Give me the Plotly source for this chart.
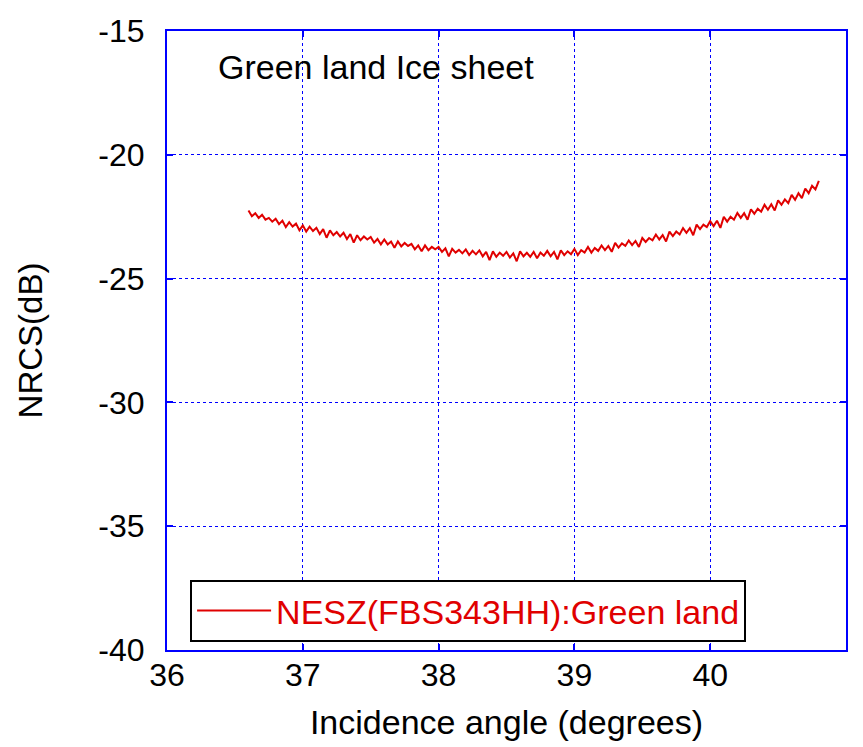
import plotly.graph_objects as go

# Incidence angle (degrees)
angle = [
    36.600, 36.625, 36.650, 36.675, 36.700, 36.725, 36.750, 36.775, 36.800, 36.825, 36.850, 36.875,
    36.900, 36.925, 36.950, 36.975, 37.000, 37.025, 37.050, 37.075, 37.100, 37.125, 37.150, 37.175,
    37.200, 37.225, 37.250, 37.275, 37.300, 37.325, 37.350, 37.375, 37.400, 37.425, 37.450, 37.475,
    37.500, 37.525, 37.550, 37.575, 37.600, 37.625, 37.650, 37.675, 37.700, 37.725, 37.750, 37.775,
    37.800, 37.825, 37.850, 37.875, 37.900, 37.925, 37.950, 37.975, 38.000, 38.025, 38.050, 38.075,
    38.100, 38.125, 38.150, 38.175, 38.200, 38.225, 38.250, 38.275, 38.300, 38.325, 38.350, 38.375,
    38.400, 38.425, 38.450, 38.475, 38.500, 38.525, 38.550, 38.575, 38.600, 38.625, 38.650, 38.675,
    38.700, 38.725, 38.750, 38.775, 38.800, 38.825, 38.850, 38.875, 38.900, 38.925, 38.950, 38.975,
    39.000, 39.025, 39.050, 39.075, 39.100, 39.125, 39.150, 39.175, 39.200, 39.225, 39.250, 39.275,
    39.300, 39.325, 39.350, 39.375, 39.400, 39.425, 39.450, 39.475, 39.500, 39.525, 39.550, 39.575,
    39.600, 39.625, 39.650, 39.675, 39.700, 39.725, 39.750, 39.775, 39.800, 39.825, 39.850, 39.875,
    39.900, 39.925, 39.950, 39.975, 40.000, 40.025, 40.050, 40.075, 40.100, 40.125, 40.150, 40.175,
    40.200, 40.225, 40.250, 40.275, 40.300, 40.325, 40.350, 40.375, 40.400, 40.425, 40.450, 40.475,
    40.500, 40.525, 40.550, 40.575, 40.600, 40.625, 40.650, 40.675, 40.700, 40.725, 40.750, 40.775,
    40.800,
]

# NESZ (dB)
nesz_db = [
    -22.25, -22.48, -22.36, -22.55, -22.42, -22.62, -22.55, -22.70, -22.58, -22.80, -22.66, -22.92,
    -22.72, -22.90, -22.78, -23.05, -22.85, -23.10, -22.90, -23.08, -22.95, -23.20, -23.00, -23.35,
    -23.05, -23.25, -23.12, -23.30, -23.15, -23.40, -23.20, -23.55, -23.25, -23.45, -23.30, -23.42,
    -23.32, -23.55, -23.40, -23.62, -23.42, -23.62, -23.50, -23.75, -23.50, -23.70, -23.56, -23.68,
    -23.60, -23.82, -23.66, -23.90, -23.66, -23.85, -23.72, -23.82, -23.72, -23.92, -23.78, -24.10,
    -23.80, -23.95, -23.84, -23.98, -23.82, -24.05, -23.88, -24.02, -23.86, -24.10, -23.92, -24.25,
    -23.90, -24.12, -23.95, -24.08, -23.92, -24.15, -23.98, -24.30, -23.90, -24.10, -23.96, -24.12,
    -23.92, -24.18, -23.95, -24.08, -23.88, -24.10, -23.92, -24.22, -23.86, -24.05, -23.90, -24.02,
    -23.80, -24.05, -23.85, -23.95, -23.72, -23.95, -23.76, -23.88, -23.66, -23.85, -23.68, -23.92,
    -23.56, -23.75, -23.58, -23.68, -23.46, -23.65, -23.48, -23.72, -23.36, -23.52, -23.36, -23.45,
    -23.22, -23.42, -23.24, -23.50, -23.10, -23.28, -23.10, -23.22, -22.96, -23.15, -22.96, -23.25,
    -22.82, -23.00, -22.82, -22.92, -22.68, -22.88, -22.66, -22.95, -22.50, -22.70, -22.50, -22.62,
    -22.35, -22.55, -22.36, -22.62, -22.20, -22.38, -22.18, -22.30, -22.02, -22.22, -22.00, -22.25,
    -21.84, -22.02, -21.80, -21.95, -21.62, -21.82, -21.55, -21.75, -21.36, -21.55, -21.25, -21.40,
    -21.05,
]

x_ticks = [36, 37, 38, 39, 40, 41]
y_ticks = [-40, -35, -30, -25, -20, -15]

series_name = "NESZ(FBS343HH):Green land"
title_text = "Green land Ice sheet"

FONT = "Liberation Sans, Arial, Helvetica, sans-serif"
BLUE = "#0000ff"
RED = "#e00000"

fig = go.Figure()
fig.add_trace(go.Scatter(
    x=angle, y=nesz_db, mode="lines", name=series_name,
    line=dict(color=RED, width=2),
))

axis_common = dict(
    showline=True, linecolor=BLUE, linewidth=2, mirror="ticks",
    ticks="inside", ticklen=6, tickwidth=1.5, tickcolor=BLUE,
    showgrid=True, gridcolor=BLUE, griddash="dot", gridwidth=1,
    zeroline=False,
    tickfont=dict(family=FONT, size=32, color="black"),
)

fig.update_layout(
    width=863, height=747,
    margin=dict(l=167, r=17, t=31, b=97),
    paper_bgcolor="white", plot_bgcolor="white",
    font=dict(family=FONT, color="black"),
    xaxis=dict(range=[36, 41], tickvals=x_ticks, ticktext=[str(v) for v in x_ticks],
               title=dict(text="Incidence angle (degrees)", font=dict(family=FONT, size=34), standoff=18),
               ticklabelstandoff=-4, **axis_common),
    yaxis=dict(range=[-40, -15], tickvals=y_ticks, ticktext=[str(v) for v in y_ticks],
               title=dict(text="NRCS(dB)", font=dict(family=FONT, size=33), standoff=46),
               ticklabelstandoff=14, **axis_common),
    showlegend=True,
    legend=dict(
        x=0.034, y=0.013, xanchor="left", yanchor="bottom",
        bgcolor="white", bordercolor="black", borderwidth=2,
        font=dict(family=FONT, size=34, color=RED),
        itemwidth=74,
    ),
    annotations=[dict(
        text=title_text, x=0.072, y=0.9416, xref="paper", yref="paper",
        xanchor="left", yanchor="middle", showarrow=False,
        font=dict(family=FONT, size=34, color="black"),
    )],
)

fig.write_html("out.html")
